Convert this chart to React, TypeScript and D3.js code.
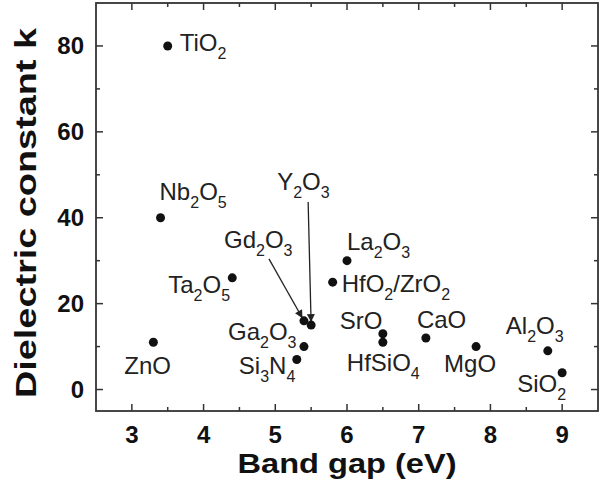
import * as d3 from 'd3';

const W = 599;
const H = 489;
const PLOT = { left: 96, right: 598, top: 3, bottom: 411 };
const FONT = '"Liberation Sans", Arial, Helvetica, sans-serif';

// dielectrics: band gap (eV) vs dielectric constant k
const MATERIALS = [
  'TiO2', 'Nb2O5', 'Ta2O5', 'ZnO', 'Gd2O3', 'Y2O3', 'Ga2O3', 'Si3N4',
  'La2O3', 'HfO2/ZrO2', 'SrO', 'HfSiO4', 'CaO', 'MgO', 'Al2O3', 'SiO2',
];
const BAND_GAP = [3.5, 3.4, 4.4, 3.3, 5.4, 5.5, 5.4, 5.3, 6.0, 5.8, 6.5, 6.5, 7.1, 7.8, 8.8, 9.0];
const K_VALUE = [80, 40, 26, 11, 16, 15, 10, 7, 30, 25, 13, 11, 12, 10, 9, 3.9];

const X_TICKS = [3, 4, 5, 6, 7, 8, 9];
const X_MINOR = [3.5, 4.5, 5.5, 6.5, 7.5, 8.5];
const Y_TICKS = [0, 20, 40, 60, 80];
const Y_MINOR = [10, 30, 50, 70];

// label placement relative to the dot (px): [dx to text start, dy to baseline]
const LABEL_OFFSET: Record<string, [number, number]> = {
  TiO2: [12, 5],
  Nb2O5: [-1, -18],
  Ta2O5: [-64, 15],
  ZnO: [-29, 32],
  Gd2O3: [-80, -73],
  Y2O3: [-34, -135],
  Ga2O3: [-76, -7],
  Si3N4: [-58, 15],
  La2O3: [0, -11],
  'HfO2/ZrO2': [9, 10],
  SrO: [-43, -5],
  HfSiO4: [-36, 29],
  CaO: [-9, -10],
  MgO: [-32, 25],
  Al2O3: [-42, -17],
  SiO2: [-45, 19],
};

// arrows from label to dot, start given relative to the dot
const ARROWS: { name: string; from: [number, number] }[] = [
  { name: 'Gd2O3', from: [-35, -62] },
  { name: 'Y2O3', from: [-3, -123] },
];

const x = d3.scaleLinear().domain([2.5, 9.5]).range([PLOT.left, PLOT.right]);
const y = d3.scaleLinear().domain([-5, 90]).range([PLOT.bottom, PLOT.top]);

function Formula({ text, px, py }: { text: string; px: number; py: number }) {
  const parts = text.split(/(\d+)/).filter(Boolean);
  let down = false;
  return (
    <text x={px} y={py} fontFamily={FONT} fill="#222">
      {parts.map((p, i) => {
        const sub = /^\d+$/.test(p);
        let dy = 0;
        if (sub && !down) { dy = 8; down = true; }
        else if (!sub && down) { dy = -8; down = false; }
        return (
          <tspan key={i} dy={dy} fontSize={sub ? 16 : 24}>{p}</tspan>
        );
      })}
    </text>
  );
}

export default function App() {
  const pts = MATERIALS.map((name, i) => ({ name, cx: x(BAND_GAP[i]), cy: y(K_VALUE[i]) }));
  const byName = Object.fromEntries(pts.map((p) => [p.name, p]));
  const stroke = '#333';

  return (
    <svg width={W} height={H} style={{ position: 'fixed', left: 0, top: 0, background: '#fff' }}>
      <defs>
        <marker id="head" viewBox="0 0 10 10" refX={10} refY={5} markerUnits="userSpaceOnUse"
          markerWidth={11} markerHeight={8} orient="auto">
          <path d="M0,0 L10,5 L0,10 z" fill="#222" />
        </marker>
      </defs>

      {/* ticks, inward on all four sides */}
      {X_TICKS.map((t) => (
        <g key={`xt${t}`} stroke={stroke} strokeWidth={1.5}>
          <line x1={x(t)} x2={x(t)} y1={PLOT.bottom} y2={PLOT.bottom - 7} />
          <line x1={x(t)} x2={x(t)} y1={PLOT.top} y2={PLOT.top + 7} />
        </g>
      ))}
      {X_MINOR.map((t) => (
        <g key={`xm${t}`} stroke={stroke} strokeWidth={1.5}>
          <line x1={x(t)} x2={x(t)} y1={PLOT.bottom} y2={PLOT.bottom - 4} />
          <line x1={x(t)} x2={x(t)} y1={PLOT.top} y2={PLOT.top + 4} />
        </g>
      ))}
      {Y_TICKS.map((t) => (
        <g key={`yt${t}`} stroke={stroke} strokeWidth={1.5}>
          <line x1={PLOT.left} x2={PLOT.left + 7} y1={y(t)} y2={y(t)} />
          <line x1={PLOT.right} x2={PLOT.right - 7} y1={y(t)} y2={y(t)} />
        </g>
      ))}
      {Y_MINOR.map((t) => (
        <g key={`ym${t}`} stroke={stroke} strokeWidth={1.5}>
          <line x1={PLOT.left} x2={PLOT.left + 4} y1={y(t)} y2={y(t)} />
          <line x1={PLOT.right} x2={PLOT.right - 4} y1={y(t)} y2={y(t)} />
        </g>
      ))}

      <rect x={PLOT.left} y={PLOT.top} width={PLOT.right - PLOT.left} height={PLOT.bottom - PLOT.top}
        fill="none" stroke={stroke} strokeWidth={1.8} />

      {/* tick labels */}
      {X_TICKS.map((t) => (
        <text key={`xl${t}`} x={x(t)} y={443} textAnchor="middle" fontFamily={FONT}
          fontWeight="bold" fontSize={24} fill="#111">{t}</text>
      ))}
      {Y_TICKS.map((t) => (
        <text key={`yl${t}`} x={84} y={y(t)} dy="0.35em" textAnchor="end" fontFamily={FONT}
          fontWeight="bold" fontSize={24} fill="#111">{t}</text>
      ))}

      {/* axis titles */}
      <text x={347} y={473} textAnchor="middle" fontFamily={FONT} fontWeight="bold" fontSize={28}
        fill="#111" textLength={219} lengthAdjust="spacingAndGlyphs">Band gap (eV)</text>
      <text transform="translate(36,213) rotate(-90)" textAnchor="middle" fontFamily={FONT}
        fontWeight="bold" fontSize={29} fill="#111" textLength={370}
        lengthAdjust="spacingAndGlyphs">Dielectric constant k</text>

      {/* arrows */}
      {ARROWS.map((a) => {
        const p = byName[a.name];
        const sx = p.cx + a.from[0];
        const sy = p.cy + a.from[1];
        const len = Math.hypot(p.cx - sx, p.cy - sy);
        const ex = p.cx - ((p.cx - sx) / len) * 3;
        const ey = p.cy - ((p.cy - sy) / len) * 3;
        return (
          <line key={`ar${a.name}`} x1={sx} y1={sy} x2={ex} y2={ey} stroke="#222"
            strokeWidth={1.3} markerEnd="url(#head)" />
        );
      })}

      {/* points */}
      {pts.map((p) => (
        <circle key={p.name} cx={p.cx} cy={p.cy} r={4.5} fill="#111" />
      ))}

      {/* labels */}
      {pts.map((p) => {
        const [dx, dy] = LABEL_OFFSET[p.name];
        return <Formula key={`lb${p.name}`} text={p.name} px={p.cx + dx} py={p.cy + dy} />;
      })}
    </svg>
  );
}
